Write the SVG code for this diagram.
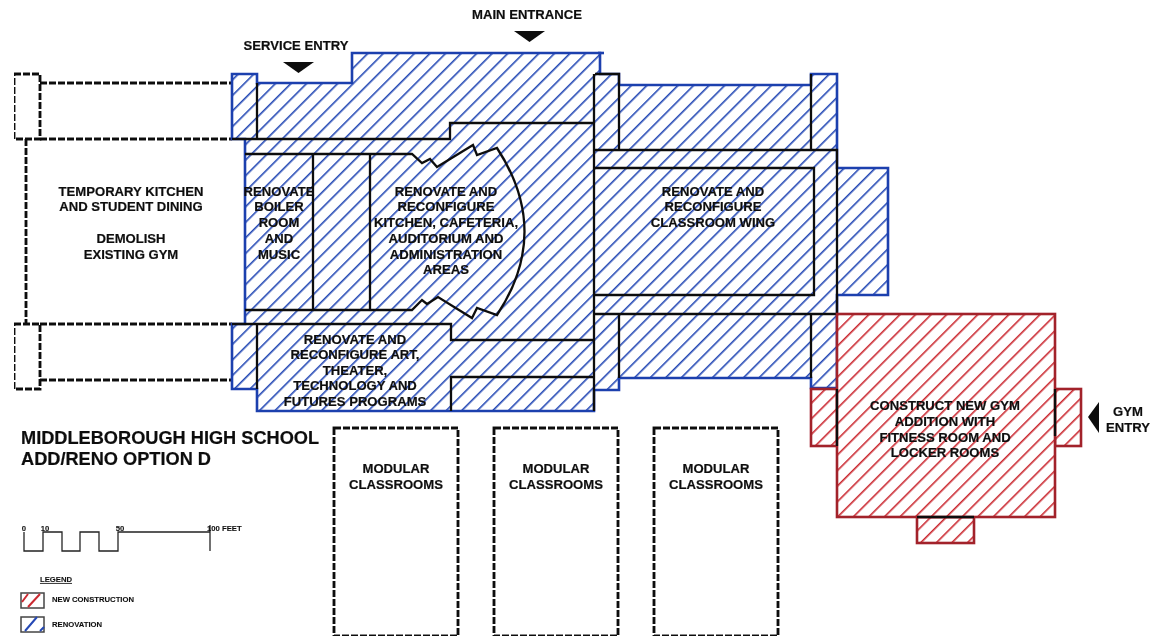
<svg xmlns="http://www.w3.org/2000/svg" width="1154" height="637" viewBox="0 0 1154 637">
<style>
text{font-family:"Liberation Sans",Arial,sans-serif;font-weight:bold;fill:#111;stroke:#111;stroke-width:.2px;text-anchor:middle;font-size:13.1px}
.w{fill:none;stroke:#111;stroke-width:2.3}
.d{fill:none;stroke:#111;stroke-width:2.8;stroke-dasharray:7 2}
.b{fill:url(#hb);stroke:#1c3fae;stroke-width:2.6}
.r{fill:url(#hr);stroke:#a2222a;stroke-width:2.6}
.s{font-size:7.7px;stroke-width:.1px}
</style>
<defs>
<pattern id="hb" width="11" height="11" patternUnits="userSpaceOnUse" patternTransform="rotate(45)"><rect width="11" height="11" fill="#fff"/><rect width="1.6" height="11" fill="#2549b5"/></pattern>
<pattern id="hr" width="11" height="11" patternUnits="userSpaceOnUse" patternTransform="rotate(45)"><rect width="11" height="11" fill="#fff"/><rect width="1.6" height="11" fill="#cb2a32"/></pattern>
<filter id="soft" x="0" y="0" width="100%" height="100%"><feGaussianBlur stdDeviation="0.3"/></filter>
</defs>
<rect width="1154" height="637" fill="#fff"/>
<g filter="url(#soft)">
<g id="temporary-wing">
<path class="d" d="M40,83H232M40,139H232M40,324H232M40,380H232M26,139V324"/>
<rect class="d" x="14" y="74" width="26" height="65"/>
<rect class="d" x="14" y="324" width="26" height="65"/>
</g>
<g id="renovation">
<path class="b" d="M232,74H257V83H352V53H600V74H619V85H811V74H837V168H888V295H837V388H811V378H619V390H594V411H257V389H232V324H245V139H232Z"/>
<path d="M598,53H604" fill="none" stroke="#1c3fae" stroke-width="2.600"/>
</g>
<g id="renovation-walls">
<path class="w" d="M257,83V139M232,139H450V123H594M245,154H412L422,163L430,159L437,167L473,145L477,155L497,148Q552,232 497,315L477,308L472,318L438,297L427,304L422,300L412,310H245M313,154V310M370,154V310"/>
<path class="w" d="M232,324H451V340H594M594,377H451V411M257,324V389M594,74V411M595,74H619V150M595,150H837V314M595,168H814V295H595M595,314H837M619,314V378M811,74V150M811,314V378"/>
</g>
<g id="new-gym">
<rect class="r" x="811" y="389" width="26" height="57"/>
<rect class="r" x="1055" y="389" width="26" height="57"/>
<rect class="r" x="917" y="517" width="57" height="26"/>
<rect class="r" x="837" y="314" width="218" height="203"/>
<path class="w" d="M837,389V446M1055,389V436M917,517H974"/>
</g>
<g id="modular-1"><rect class="d" x="334" y="428" width="124" height="208"/><text x="396" y="473">MODULAR</text><text x="396" y="489">CLASSROOMS</text></g>
<g id="modular-2"><rect class="d" x="494" y="428" width="124" height="208"/><text x="556" y="473">MODULAR</text><text x="556" y="489">CLASSROOMS</text></g>
<g id="modular-3"><rect class="d" x="654" y="428" width="124" height="208"/><text x="716" y="473">MODULAR</text><text x="716" y="489">CLASSROOMS</text></g>
<g id="entries">
<path d="M283,62H314L298.500,73Z M514,31H545L529.500,42Z M1099,402V433L1088,417Z" fill="#111"/>
<text x="296" y="50">SERVICE ENTRY</text>
<text x="527" y="19">MAIN ENTRANCE</text>
<text x="1128" y="416">GYM</text>
<text x="1128" y="432">ENTRY</text>
</g>
<g id="labels">
<text x="131" y="196">TEMPORARY KITCHEN</text>
<text x="131" y="211">AND STUDENT DINING</text>
<text x="131" y="243">DEMOLISH</text>
<text x="131" y="259">EXISTING GYM</text>
<text x="279" y="196">RENOVATE</text>
<text x="279" y="211">BOILER</text>
<text x="279" y="227">ROOM</text>
<text x="279" y="243">AND</text>
<text x="279" y="259">MUSIC</text>
<text x="446" y="196">RENOVATE AND</text>
<text x="446" y="211">RECONFIGURE</text>
<text x="446" y="227">KITCHEN, CAFETERIA,</text>
<text x="446" y="243">AUDITORIUM AND</text>
<text x="446" y="259">ADMINISTRATION</text>
<text x="446" y="274">AREAS</text>
<text x="713" y="196">RENOVATE AND</text>
<text x="713" y="211">RECONFIGURE</text>
<text x="713" y="227">CLASSROOM WING</text>
<text x="355" y="344">RENOVATE AND</text>
<text x="355" y="359">RECONFIGURE ART,</text>
<text x="355" y="375">THEATER,</text>
<text x="355" y="390">TECHNOLOGY AND</text>
<text x="355" y="406">FUTURES PROGRAMS</text>
<text x="945" y="410">CONSTRUCT NEW GYM</text>
<text x="945" y="426">ADDITION WITH</text>
<text x="945" y="442">FITNESS ROOM AND</text>
<text x="945" y="457">LOCKER ROOMS</text>
</g>
<g id="title">
<text x="21" y="444" style="text-anchor:start;font-size:18.200px">MIDDLEBOROUGH HIGH SCHOOL</text>
<text x="21" y="465" style="text-anchor:start;font-size:18.200px">ADD/RENO OPTION D</text>
</g>
<g id="scale">
<path d="M24,532V551H43V532H62V551H80V532H99V551H118V532H210M210,525V551" fill="none" stroke="#222" stroke-width="1.300"/>
<text class="s" x="24" y="531">0</text>
<text class="s" x="45" y="531">10</text>
<text class="s" x="120" y="531">50</text>
<text class="s" x="207" y="531" style="text-anchor:start">100 FEET</text>
</g>
<g id="legend">
<text class="s" x="56" y="582" text-decoration="underline">LEGEND</text>
<rect x="21" y="593" width="23" height="15" fill="#fff" stroke="#444" stroke-width="1.500"/>
<path d="M22,602L28,594M28,607L40,594" stroke="#cb2a32" stroke-width="2" fill="none"/>
<text class="s" x="52" y="602" style="text-anchor:start">NEW CONSTRUCTION</text>
<rect x="21" y="617" width="23" height="15" fill="#fff" stroke="#444" stroke-width="1.500"/>
<path d="M25,631L37,617M40,631L44,627" stroke="#2549b5" stroke-width="2" fill="none"/>
<text class="s" x="52" y="627" style="text-anchor:start">RENOVATION</text>
</g>
</g>
</svg>
